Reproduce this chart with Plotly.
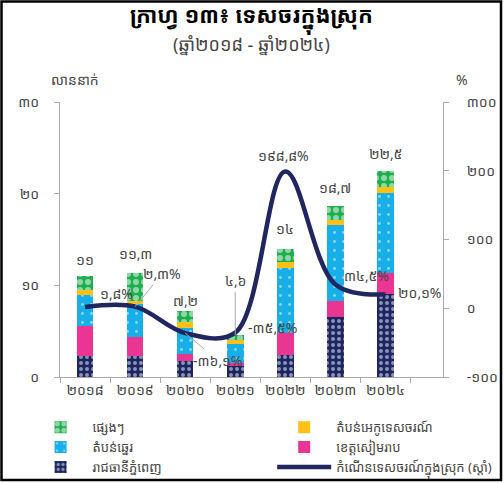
import plotly.graph_objects as go

# data (million visitors, growth in %)
years = ["២០១៨", "២០១៩", "២០២០", "២០២១", "២០២២", "២០២៣", "២០២៤"]
phnom_penh = [2.3, 2.3, 1.8, 1.2, 2.4, 6.5, 9.1]
siem_reap = [3.3, 2.1, 0.7, 0.3, 2.4, 1.8, 2.2]
coastal = [3.3, 3.6, 2.9, 2.1, 7.1, 8.3, 8.8]
eco = [0.6, 0.3, 0.6, 0.4, 0.6, 0.5, 0.6]
others = [1.5, 3.0, 1.2, 0.6, 1.5, 1.6, 1.8]
totals = [11, 11.3, 7.2, 4.6, 14, 18.7, 22.5]
growth = [1.8, 2.3, -36.1, -35.5, 198.8, 34.5, 20.1]

left_ticks = [0, 10, 20, 30]
right_ticks = [-100, 0, 100, 200, 300]

FONT = "Noto Sans Khmer, Khmer OS, Hanuman, Noto Sans, sans-serif"
TXT = "rgb(70,70,70)"
AXIS = "rgb(170,170,170)"

KH = str.maketrans("0123456789.", "០១២៣៤៥៦៧៨៩,")


def kh(v, suffix=""):
    """Format a number with Khmer digits and comma decimals."""
    return f"{v:g}{suffix}".translate(KH)


fig = go.Figure()

# (name, values, colour, pattern, legend, rank)
series = [
    ("រាជធានីភ្នំពេញ", phnom_penh, "#1b2561",
     dict(shape=".", fgcolor="white", size=6, solidity=0.35), "legend", 5),
    ("ខេត្តសៀមរាប", siem_reap, "#ea3592", None, "legend2", 4),
    ("តំបន់ឆ្នេរ", coastal, "#18aee8",
     dict(shape=".", fgcolor="white", size=9, solidity=0.08), "legend", 3),
    ("តំបន់អេកូទេសចរណ៍", eco, "#fcc016", None, "legend2", 2),
    ("ផ្សេងៗ", others, "#1fae4e",
     dict(shape=".", fgcolor="white", size=8, solidity=0.45), "legend", 1),
]
for name, vals, color, pattern, leg, rank in series:
    marker = dict(color=color, line=dict(width=0))
    if pattern:
        marker["pattern"] = pattern
    fig.add_trace(
        go.Bar(
            x=years,
            y=vals,
            name=name,
            marker=marker,
            legend=leg,
            legendrank=rank,
            width=0.33,
        )
    )

fig.add_trace(
    go.Scatter(
        x=years,
        y=growth,
        name="កំណើនទេសចរណ៍ក្នុងស្រុក (ស្តាំ)",
        mode="lines",
        line=dict(color="#1f2660", width=4.5, shape="spline", smoothing=1),
        yaxis="y2",
        legend="legend2",
        legendrank=6,
    )
)

annotations = []
# totals above the bars (dx, dy in px, leader line flag)
total_off = [(0, -17, False), (0, -20, False), (0, -11, False), (0, -54, True),
             (0, -20, False), (0, -18, False), (0, -17, False)]
for yr, t, (dx, dy, lead) in zip(years, totals, total_off):
    annotations.append(
        dict(
            x=yr, y=t, xref="x", yref="y", text=kh(t),
            showarrow=True, ax=dx, ay=dy, arrowhead=0, arrowwidth=1,
            arrowcolor=AXIS if lead else "rgba(0,0,0,0)",
            font=dict(family=FONT, size=14, color=TXT),
        )
    )
# growth labels
growth_off = [(31, -14, False), (27, -33, True), (32, 27, True), (37, -5, False),
              (-2, -16, False), (31, -9, False), (34, -2, False)]
for yr, g, (dx, dy, lead) in zip(years, growth, growth_off):
    annotations.append(
        dict(
            x=yr, y=g, xref="x", yref="y2", text=kh(g, "%"),
            showarrow=True, ax=dx, ay=dy, arrowhead=0, arrowwidth=1,
            arrowcolor=AXIS if lead else "rgba(0,0,0,0)",
            font=dict(family=FONT, size=14, color=TXT),
        )
    )
# title, subtitle and axis units
annotations += [
    dict(xref="paper", yref="paper", x=0.5, y=1.31, yanchor="middle",
         text="<b>ក្រាហ្វ ១៣៖ ទេសចរក្នុងស្រុក</b>",
         showarrow=False, font=dict(family=FONT, size=22, color="black")),
    dict(xref="paper", yref="paper", x=0.5, y=1.21, yanchor="middle",
         text="(ឆ្នាំ២០១៨ - ឆ្នាំ២០២៤)",
         showarrow=False, font=dict(family=FONT, size=18, color=TXT)),
    dict(xref="paper", yref="paper", x=-0.03, y=1.08, xanchor="left",
         yanchor="middle", text="លាននាក់",
         showarrow=False, font=dict(family=FONT, size=14, color=TXT)),
    dict(xref="paper", yref="paper", x=1.05, y=1.08, xanchor="center",
         yanchor="middle", text="%",
         showarrow=False, font=dict(family=FONT, size=14, color=TXT)),
]

legend_style = dict(
    orientation="v", yanchor="top", xanchor="left", traceorder="normal",
    font=dict(family=FONT, size=13, color=TXT), itemwidth=54,
    bgcolor="rgba(0,0,0,0)", tracegroupgap=0,
)

fig.update_layout(
    width=504,
    height=483,
    paper_bgcolor="white",
    plot_bgcolor="white",
    barmode="stack",
    margin=dict(l=60, r=61, t=102, b=106, autoexpand=False),
    font=dict(family=FONT, size=14, color=TXT),
    xaxis=dict(
        showline=True, linecolor=AXIS, linewidth=1, tickangle=0,
        ticks="outside", tickson="boundaries", ticklen=5, tickcolor=AXIS,
        tickfont=dict(size=14, color=TXT), showgrid=False, automargin=False,
    ),
    yaxis=dict(
        range=[0, 30], tickvals=left_ticks, ticktext=[kh(v) for v in left_ticks],
        showline=True, linecolor=AXIS, ticks="outside", ticklen=5, tickcolor=AXIS,
        showgrid=False, zeroline=False, ticklabelstandoff=12, automargin=False,
    ),
    yaxis2=dict(
        range=[-100, 300], tickvals=right_ticks, ticktext=[kh(v) for v in right_ticks],
        overlaying="y", side="right", showline=True, linecolor=AXIS,
        ticks="outside", ticklen=5, tickcolor=AXIS, automargin=False,
        showgrid=False, zeroline=False, ticklabelstandoff=15,
    ),
    legend=dict(x=-0.082, y=-0.128, **legend_style),
    legend2=dict(x=0.554, y=-0.128, **legend_style),
    annotations=annotations,
    shapes=[
        dict(type="rect", xref="paper", yref="paper",
             x0=(1.5 - 60) / 383, x1=(501 - 60) / 383,
             y0=-(480 - 377) / 275, y1=(377 - 1.5) / 275,
             line=dict(color="black", width=2.5)),
    ],
)

fig.write_html(
    "out.html",
    config={"displayModeBar": False},
    post_script="document.body.style.margin='0';",
)
